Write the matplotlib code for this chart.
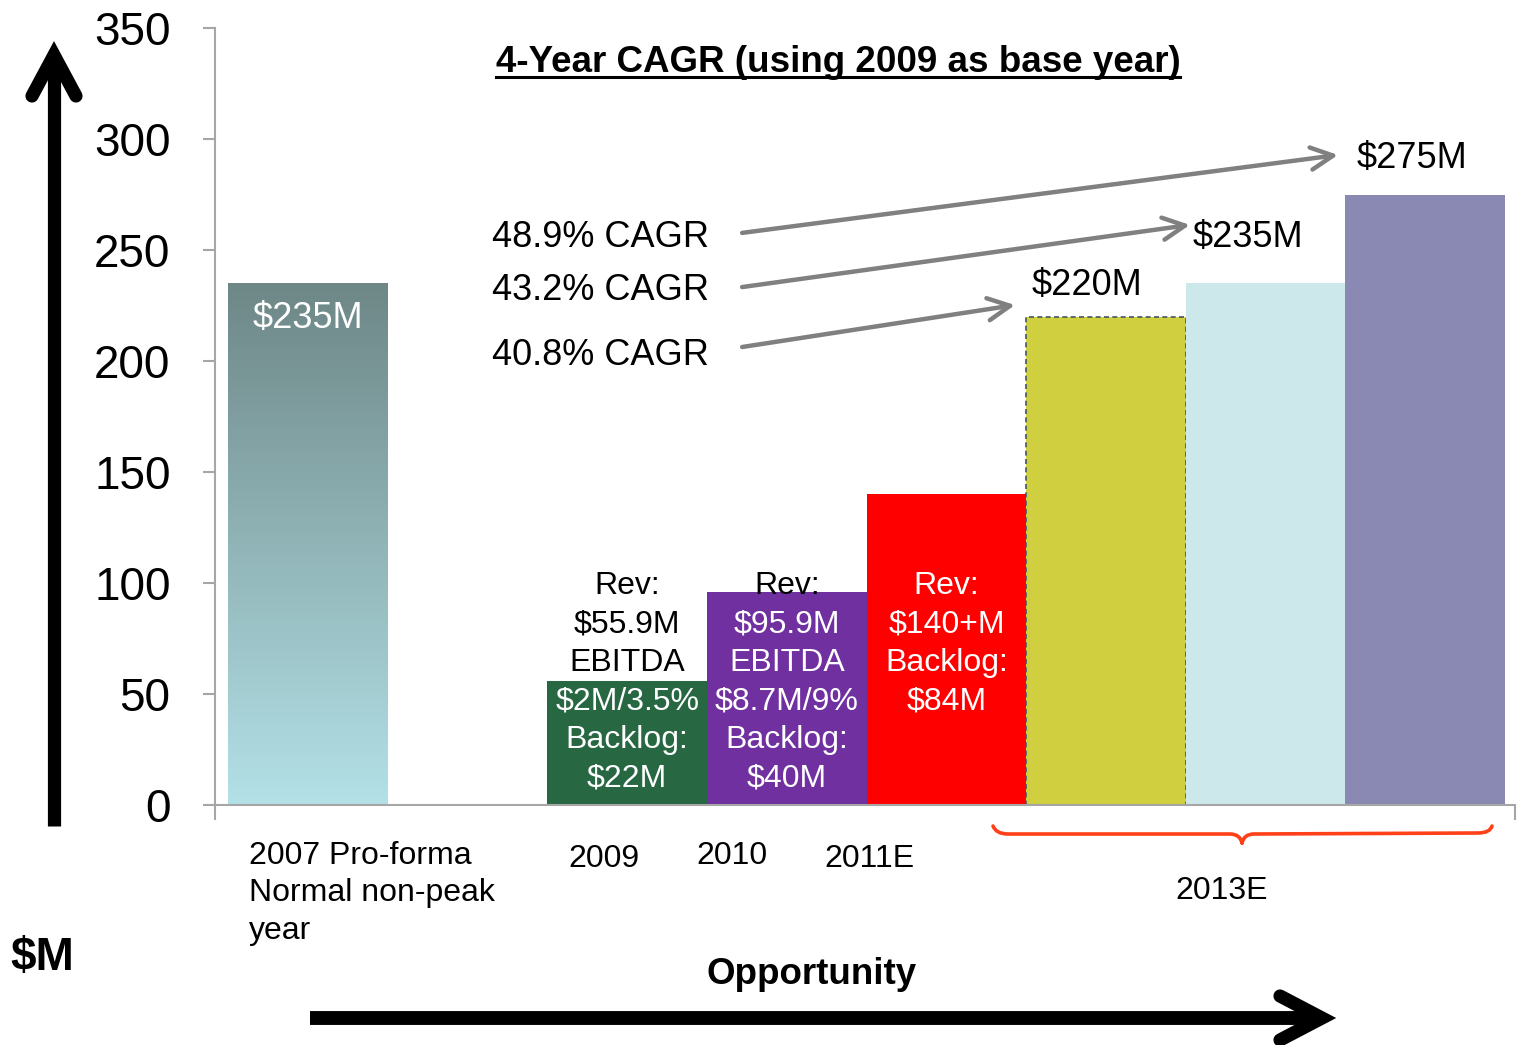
import numpy as np
import matplotlib
matplotlib.use("Agg")
import matplotlib.pyplot as plt
from matplotlib.lines import Line2D
from matplotlib.path import Path
from matplotlib.patches import PathPatch
from matplotlib.colors import LinearSegmentedColormap

plt.rcParams['font.family'] = ['Liberation Sans', 'DejaVu Sans']

# ---------------- data ----------------
slots = [0, 2, 3, 4, 5, 6, 7]
values = [235, 55.9, 95.9, 140, 220, 235, 275]
bar_colors = ['none', '#276742', '#7030A0', '#FF0000', '#CFCF3F', '#CCE8EB', '#8A89B4']
yticks = [0, 50, 100, 150, 200, 250, 300, 350]
title = "4-Year CAGR (using 2009 as base year)"
cagr_labels = ["48.9% CAGR", "43.2% CAGR", "40.8% CAGR"]
cagr_targets = ["$275M", "$235M", "$220M"]
bar_text = {
    2: [("Rev:", 'black'), ("$55.9M", 'black'), ("EBITDA", 'black'),
        ("$2M/3.5%", 'white'), ("Backlog:", 'white'), ("$22M", 'white')],
    3: [("Rev:", 'black'), ("$95.9M", 'white'), ("EBITDA", 'white'),
        ("$8.7M/9%", 'white'), ("Backlog:", 'white'), ("$40M", 'white')],
    4: [("Rev:", 'white'), ("$140+M", 'white'), ("Backlog:", 'white'), ("$84M", 'white')],
}
cat_labels = ["2007 Pro-forma\nNormal non-peak\nyear", "2009", "2010", "2011E", "2013E"]

W, H = 1518, 1045
fig = plt.figure(figsize=(W / 100, H / 100), dpi=100)


def fp(x, y):
    return (x / W, 1 - y / H)


ax = fig.add_axes([215 / W, 1 - 805 / H, 1300 / W, 777 / H])
x0, x1 = -0.583, 7.563
ax.set_xlim(x0, x1)
ax.set_ylim(0, 350)

bars = ax.bar(slots, values, width=1.0, color=bar_colors, linewidth=0, zorder=2)

# gradient for first bar
cmap = LinearSegmentedColormap.from_list('g', ['#B3E1E7', '#6E8787'])
grad = np.linspace(0, 1, 256).reshape(-1, 1)
b0 = bars[0]
im = ax.imshow(grad, cmap=cmap, origin='lower', aspect='auto',
               extent=[b0.get_x(), b0.get_x() + b0.get_width(), 0, b0.get_height()], zorder=2)
im.set_clip_path(b0)
ax.set_xlim(x0, x1)
ax.set_ylim(0, 350)

# dashed outline for yellow bar
bars[4].set_edgecolor('#44546A')
bars[4].set_linewidth(1.2)
bars[4].set_linestyle((0, (3, 2)))

# spines / ticks
for s in ['top', 'right']:
    ax.spines[s].set_visible(False)
ax.spines['left'].set_color('#A6A6A6')
ax.spines['bottom'].set_color('#A6A6A6')
ax.spines['left'].set_linewidth(1.5)
ax.spines['bottom'].set_linewidth(1.5)
ax.set_yticks(yticks)
ax.set_yticklabels([str(v) for v in yticks], fontsize=33)
ax.tick_params(axis='y', length=9, width=1.5, color='#A6A6A6', pad=23)
ax.set_xticks([x0, x1])
ax.set_xticklabels(['', ''])
ax.tick_params(axis='x', length=11, width=1.5, color='#A6A6A6')

# texts inside/above bars
step = 17.3
for slot, lines in bar_text.items():
    for k, (t, c) in enumerate(lines):
        ax.text(slot, 98.5 - k * step, t, color=c, fontsize=23, ha='center', va='center', zorder=5)

ax.text(0, 219, "$235M", color='white', fontsize=26, ha='center', va='center', zorder=5)

# CAGR labels and arrows
starts_y = [257.7, 233.3, 206.3]
label_y = [255.8, 231.9, 202.7]
tips = [(6.454, 292.8), (5.526, 261.3), (4.43, 225.2)]
target_pos = [(6.57, 291.4), (5.54, 255.8), (4.535, 234.2)]
for lab, ly, sy, tip, tgt, tp in zip(cagr_labels, label_y, starts_y, tips, cagr_targets, target_pos):
    ax.text(2.51, ly, lab, fontsize=26, ha='right', va='center')
    ax.annotate('', xy=tip, xytext=(2.72, sy),
                arrowprops=dict(arrowstyle='->,head_length=1.0,head_width=0.5', color='#808080',
                                lw=3.2, shrinkA=0, shrinkB=0, mutation_scale=16))
    ax.text(tp[0], tp[1], tgt, fontsize=26, ha='left', va='center')

# title with underline
t = fig.text(838 / W, 1 - 63 / H, title, fontsize=26.5, fontweight='bold', ha='center', va='center')
fig.canvas.draw()
bb = t.get_window_extent()
fig.add_artist(Line2D([bb.x0 / W, bb.x1 / W], [1 - 77 / H, 1 - 77 / H], color='black', lw=2.2))

# category labels
fig.text(249 / W, 1 - 841 / H, cat_labels[0], fontsize=23, ha='left', va='top', linespacing=1.32)
fig.text(*fp(604, 859), cat_labels[1], fontsize=23, ha='center', va='center')
fig.text(*fp(732, 856), cat_labels[2], fontsize=23, ha='center', va='center')
fig.text(*fp(869, 859), cat_labels[3], fontsize=23, ha='center', va='center')
fig.text(*fp(1222, 891), cat_labels[4], fontsize=23, ha='center', va='center')

# brace
bp = [(993, 826), (996, 834), (1008, 834), (1230, 834), (1240, 834), (1242, 843), (1242, 843),
      (1244, 834), (1254, 834), (1478, 833), (1490, 833), (1492, 826)]
codes = [Path.MOVETO, Path.CURVE3, Path.CURVE3, Path.LINETO, Path.CURVE3, Path.CURVE3,
         Path.MOVETO, Path.CURVE3, Path.CURVE3, Path.LINETO, Path.CURVE3, Path.CURVE3]
brace = Path([fp(x, y) for x, y in bp], codes)
fig.add_artist(PathPatch(brace, transform=fig.transFigure, fill=False, edgecolor='#FF4019', lw=2.6,
                         capstyle='round'))

# big arrows
lw_big = 9.5
fig.add_artist(Line2D([54 / W, 54 / W], [1 - 826 / H, 1 - 60 / H], color='black', lw=lw_big,
                      solid_capstyle='butt'))
fig.add_artist(Line2D([fp(32, 96)[0], fp(54, 55)[0], fp(76, 96)[0]],
                      [fp(32, 96)[1], fp(54, 55)[1], fp(76, 96)[1]], color='black', lw=lw_big,
                      solid_capstyle='round', solid_joinstyle='miter'))
fig.add_artist(Line2D([310 / W, 1318 / W], [1 - 1018 / H, 1 - 1018 / H], color='black', lw=10,
                      solid_capstyle='butt'))
fig.add_artist(Line2D([fp(1280, 996)[0], fp(1322, 1018)[0], fp(1280, 1040)[0]],
                      [fp(1280, 996)[1], fp(1322, 1018)[1], fp(1280, 1040)[1]], color='black', lw=lw_big,
                      solid_capstyle='round', solid_joinstyle='miter'))

fig.text(*fp(42, 958), "$M", fontsize=33, fontweight='bold', ha='center', va='center')
fig.text(*fp(812, 974), "Opportunity", fontsize=26.5, fontweight='bold', ha='center', va='center')

fig.savefig('out.png', dpi=100)
